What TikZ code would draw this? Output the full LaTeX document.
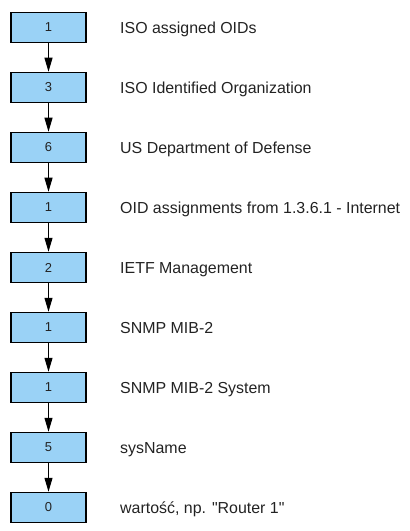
\documentclass[tikz,border=0pt]{standalone}
\usepackage{fontspec}
\setmainfont{Liberation Sans}
\usetikzlibrary{arrows.meta}
\definecolor{boxblue}{HTML}{9AD2F6}
\definecolor{txt}{HTML}{222222}
\tikzset{
  oidbox/.style={draw=black, line width=1.5bp, fill=boxblue, minimum width=75bp, minimum height=30bp, inner sep=0pt, font=\fontsize{13}{15}\selectfont, text=txt},
  oidlabel/.style={anchor=base west, inner sep=0pt, font=\fontsize{16}{19}\selectfont, text=txt},
  oidarrow/.style={draw=black, line width=1bp, -{Triangle[length=14bp,width=8bp]}}
}
\begin{document}
\begin{tikzpicture}[x=1bp,y=-1bp]
\useasboundingbox (0,0) rectangle (409,531);
\foreach \n/\v/\t in {1/1/ISO assigned OIDs, 2/3/ISO Identified Organization, 3/6/US Department of Defense, 4/1/OID assignments from 1.3.6.1 - Internet, 5/2/IETF Management, 6/1/SNMP MIB-2, 7/1/SNMP MIB-2 System, 8/5/sysName, 9/0/{wartość, np. \textquotedbl Router 1\textquotedbl}} {
  \node[oidbox] (b\n) at (48.5, {27.5+60*(\n-1)}) {\v};
  \node[oidlabel] (l\n) at (120, {33.5+60*(\n-1)}) {\t};
}
\foreach \a/\b in {1/2,2/3,3/4,4/5,5/6,6/7,7/8,8/9} {
  \draw[oidarrow] (b\a) -- (b\b);
}
\end{tikzpicture}
\end{document}
